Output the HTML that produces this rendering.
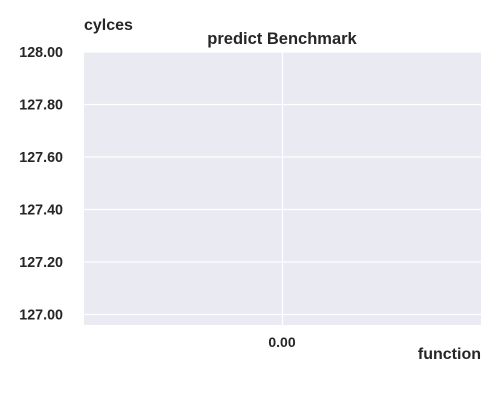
<!DOCTYPE html>
<html><head><meta charset="utf-8"><style>
html,body{margin:0;padding:0;background:#fff;}
svg{display:block;font-family:"Liberation Sans",Arial,sans-serif;font-weight:bold;fill:#262626;}
</style></head><body>
<svg id="chart" width="500" height="400"></svg>
<script>
const yTicks=[127.0,127.2,127.4,127.6,127.8,128.0];
const xTicks=[0.0];
const yMin=126.96, yMax=128.0;
const xMin=-1, xMax=1;
const L=84,R=481,T=52,B=325;
const ys=v=>B-(v-yMin)/(yMax-yMin)*(B-T);
const xs=v=>L+(v-xMin)/(xMax-xMin)*(R-L);
const svg=document.getElementById('chart');
const NS='http://www.w3.org/2000/svg';
function mk(tag,attrs,txt){const e=document.createElementNS(NS,tag);for(const k in attrs)e.setAttribute(k,attrs[k]);if(txt!==undefined)e.textContent=txt;svg.appendChild(e);return e;}
let bg=mk('rect',{x:L,y:T,width:R-L,height:B-T,fill:'#eaeaf2'});


yTicks.forEach(v=>{
  const g=mk('line',{x1:L,x2:R,y1:ys(v),y2:ys(v),stroke:'#fff','stroke-width':1.3});
  
  
  const t=mk('text',{x:63,y:ys(v)+5,'text-anchor':'end','font-size':14.3},v.toFixed(2));
  
  
});
xTicks.forEach(v=>{
  const g=mk('line',{x1:xs(v),x2:xs(v),y1:T,y2:B,stroke:'#fff','stroke-width':1.3});
  
  
  const t=mk('text',{x:xs(v)-0.5,y:347,'text-anchor':'middle','font-size':14},v.toFixed(2));
  
  
});
let yt=mk('text',{x:84,y:30,'font-size':16},'cylces');


let tt=mk('text',{x:282,y:44,'text-anchor':'middle','font-size':16.5},'predict Benchmark');


let xt=mk('text',{x:481,y:359,'text-anchor':'end','font-size':16},'function');


</script>
</body></html>
